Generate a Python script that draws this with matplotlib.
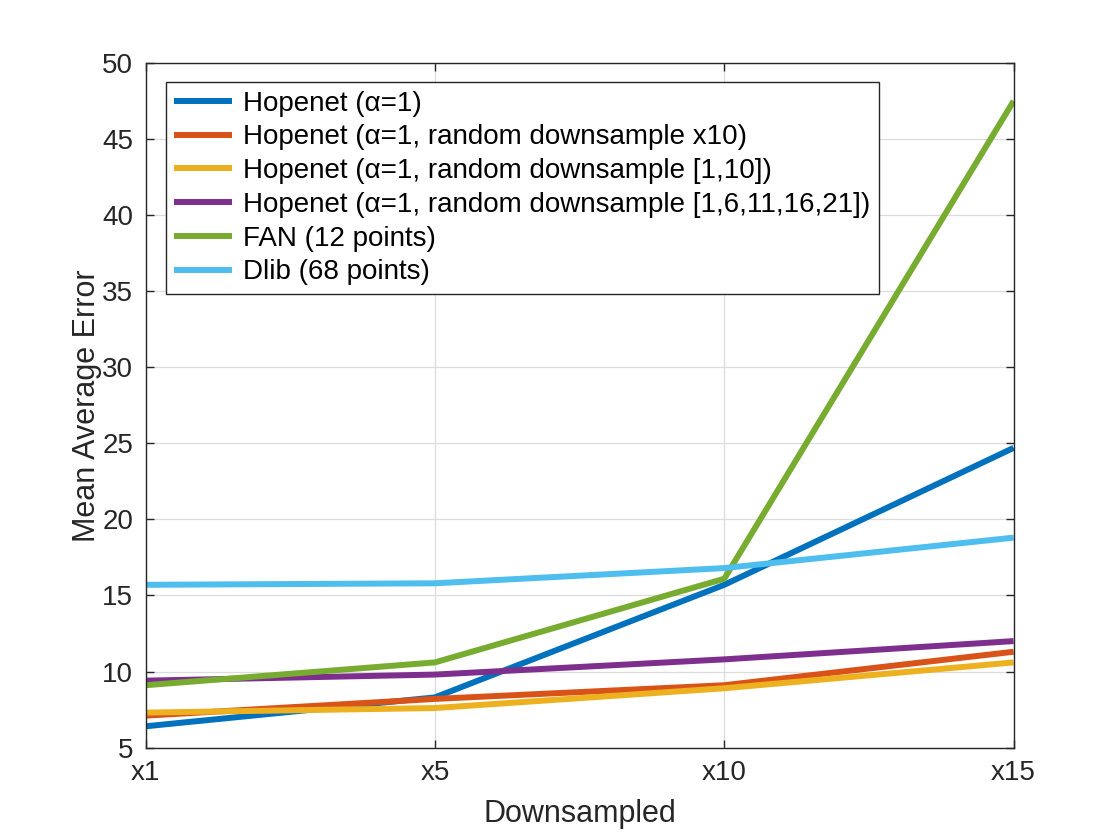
import matplotlib
matplotlib.use("Agg")
import matplotlib.pyplot as plt

plt.rcParams['font.family'] = ['Liberation Sans', 'DejaVu Sans']

x_labels = ['x1', 'x5', 'x10', 'x15']

hopenet = [6.4, 8.3, 15.7, 24.7]
hopenet_x10 = [7.1, 8.2, 9.1, 11.3]
hopenet_1_10 = [7.3, 7.6, 8.9, 10.6]
hopenet_multi = [9.4, 9.8, 10.8, 12.0]
fan = [9.1, 10.6, 16.1, 47.5]
dlib = [15.7, 15.8, 16.8, 18.8]

series = [
    (hopenet, 'Hopenet (α=1)', '#0072BD'),
    (hopenet_x10, 'Hopenet (α=1, random downsample x10)', '#D95319'),
    (hopenet_1_10, 'Hopenet (α=1, random downsample [1,10])', '#EDB120'),
    (hopenet_multi, 'Hopenet (α=1, random downsample [1,6,11,16,21])', '#7E2F8E'),
    (fan, 'FAN (12 points)', '#77AC30'),
    (dlib, 'Dlib (68 points)', '#4DBEEE'),
]

fig = plt.figure(figsize=(11.2, 8.4), dpi=100)
ax = fig.add_axes([0.13, 0.11, 0.775, 0.815])

xs = list(range(len(x_labels)))
for vals, label, color in series:
    ax.plot(xs, vals, color=color, linewidth=4.3, label=label, solid_capstyle='butt')

ax.set_xlim(0, len(x_labels) - 1)
ax.set_ylim(5, 50)
ax.set_xticks(xs)
ax.set_xticklabels(x_labels)
ax.set_yticks(range(5, 51, 5))

ax.grid(True, color='#dcdcdc', linewidth=0.9)
ax.set_axisbelow(True)
ax.tick_params(direction='in', length=6, width=1, colors='#262626',
               labelsize=20, top=True, right=True, pad=9)
for sp in ax.spines.values():
    sp.set_color('#262626')
    sp.set_linewidth(1.0)

ax.set_xlabel('Downsampled', fontsize=22, color='#262626', labelpad=9)
ax.set_ylabel('Mean Average Error', fontsize=22, color='#262626', labelpad=0)

leg = ax.legend(loc='upper left', bbox_to_anchor=(0.023, 0.972), borderaxespad=0,
                fontsize=20, frameon=True, fancybox=False, shadow=False,
                handlelength=2.1, handletextpad=0.4, labelspacing=0.28,
                borderpad=0.3, framealpha=1)
leg.get_frame().set_edgecolor('#262626')
leg.get_frame().set_linewidth(1.0)

fig.savefig('out.png', dpi=100)
